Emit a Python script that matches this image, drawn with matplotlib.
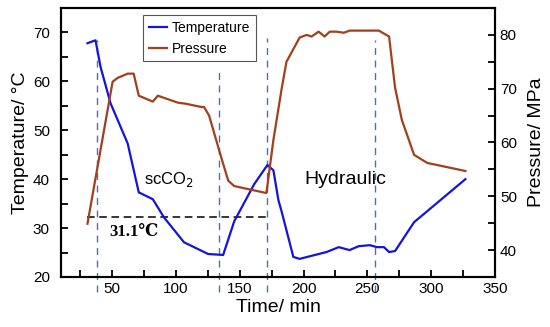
import matplotlib.pyplot as plt
from matplotlib.ticker import MultipleLocator

plt.rcParams['font.family'] = ['Liberation Sans', 'DejaVu Sans']

# temperature curve (left axis)
t_time = [30.7, 37, 41, 48.8, 62.2, 70.9, 81.9, 90.6, 106.3, 125.2, 137,
          145.7, 161.4, 171.7, 176.4, 180.3, 182.7, 192, 196.9, 218, 227.6,
          236, 243.3, 252, 257.5, 263, 267, 271.7, 286.6, 326.8]
temp = [67.8, 68.4, 62.9, 55.5, 47.3, 37.3, 35.9, 32.2, 27.1, 24.7, 24.5,
        31.4, 39.0, 42.9, 41.8, 35.7, 33.5, 24.1, 23.7, 25.1, 26.1,
        25.5, 26.3, 26.5, 26.1, 26.1, 25.1, 25.3, 31.2, 40.0]

# pressure curve (right axis)
p_time = [30.7, 50.4, 54.3, 62.2, 66.9, 70.9, 81.9, 85.8, 101.6, 107.9,
          119.7, 122, 126, 135.4, 141, 145.7, 170.9, 176.4, 182.7, 186.6,
          196.9, 202.4, 206.3, 211.8, 216.5, 220.5, 226, 231.5, 236.2, 259,
          267, 271.7, 277, 286.6, 296.9, 326.8]
pres = [44.9, 71.3, 72.0, 72.8, 72.8, 68.7, 67.6, 68.7, 67.4, 67.2,
        66.6, 66.6, 65.0, 57.3, 52.9, 51.9, 50.6, 60.5, 69.8, 75.0,
        79.5, 80.0, 79.7, 80.6, 79.7, 80.6, 80.6, 80.4, 80.8, 80.8,
        79.7, 70.2, 64.2, 57.7, 56.2, 54.7]

# stage markers
stage_x = [38, 134, 171, 256]
stage_top = [68.4, 62.9, 68.8, 68.4]
crit_temp = 32.2
crit_span = [30.7, 171]

blue = '#1414dc'
brown = '#a23f1c'

fig = plt.figure(figsize=(5.5, 3.27), dpi=100)
ax = fig.add_axes([0.111, 0.153, 0.789, 0.8225])
ax2 = ax.twinx()

for x, top in zip(stage_x, stage_top):
    ax.plot([x, x], [16.9, top], color='#4a6fb8', lw=1.0, ls=(0, (5, 4)),
            clip_on=False, zorder=1)
ax.plot(crit_span, [crit_temp, crit_temp], color='black', lw=1.1,
        ls=(0, (5, 3)), zorder=2)

l1, = ax.plot(t_time, temp, color=blue, lw=1.6, label='Temperature', zorder=3)
l2, = ax2.plot(p_time, pres, color=brown, lw=1.6, label='Pressure')

ax.text(48, 29.2, '31.1℃', fontsize=12, fontweight='bold',
        family=['Liberation Serif', 'DejaVu Serif'], va='center')
ax.text(75, 40, 'scCO$_2$', fontsize=12, va='center')
ax.text(201, 40, 'Hydraulic', fontsize=14, va='center')

ax.set_xlim(10, 350)
ax.set_ylim(20, 75)
ax2.set_ylim(35, 85)

ax.xaxis.set_major_locator(MultipleLocator(50))
ax.xaxis.set_minor_locator(MultipleLocator(25))
ax.yaxis.set_major_locator(MultipleLocator(10))
ax.yaxis.set_minor_locator(MultipleLocator(5))
ax2.yaxis.set_major_locator(MultipleLocator(10))
ax2.yaxis.set_minor_locator(MultipleLocator(5))

for a in (ax, ax2):
    a.tick_params(which='both', direction='in', width=1.3, labelsize=11,
                  length=5)
    for s in a.spines.values():
        s.set_linewidth(1.5)
ax.tick_params(axis='y', pad=8)

ax.set_xlabel('Time/ min', fontsize=14, labelpad=2)
ax.set_ylabel('Temperature/ °C', fontsize=14, labelpad=3)
ax2.set_ylabel('Pressure/ MPa', fontsize=14, labelpad=8)

leg = ax.legend(handles=[l1, l2], loc='upper left',
                bbox_to_anchor=(0.189, 0.974), borderaxespad=0,
                fontsize=10, handlelength=1.3, handletextpad=0.4,
                fancybox=False, framealpha=1, edgecolor='#555555')
leg.get_frame().set_linewidth(0.8)

fig.savefig('out.png', dpi=100)
